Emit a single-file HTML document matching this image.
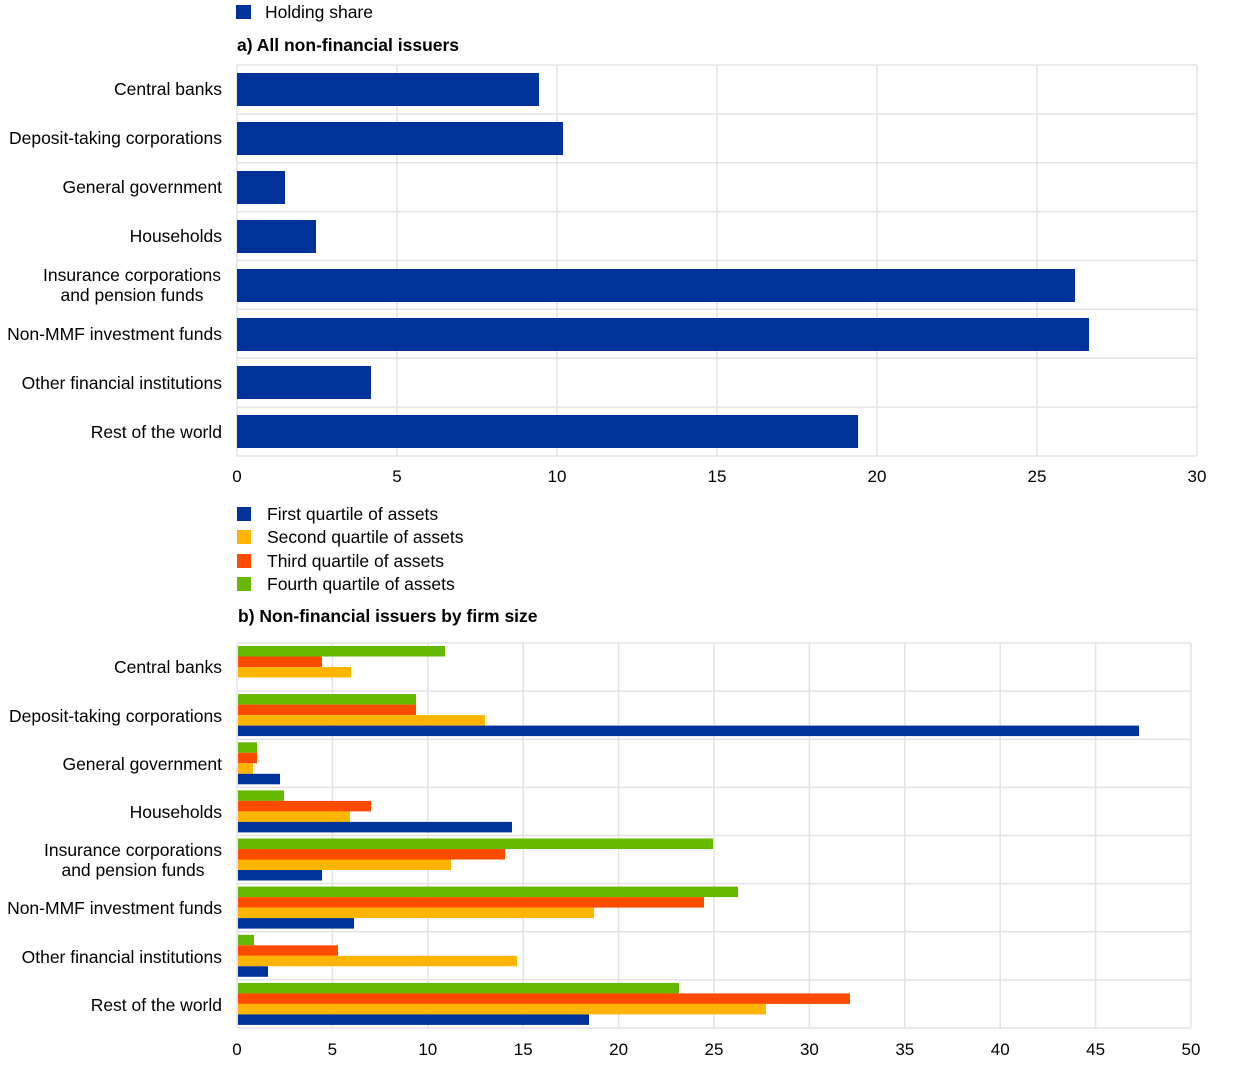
<!DOCTYPE html><html><head><meta charset="utf-8"><style>body{margin:0;background:#fff}svg{display:block;font-family:"Liberation Sans",Arial,sans-serif}</style></head><body>
<svg width="1240" height="1068" xmlns="http://www.w3.org/2000/svg">
<g font-size="17.5" fill="#000">
<rect x="236" y="5" width="15" height="14" fill="#003299"/>
<text x="265" y="18">Holding share</text>
<text x="237" y="51" font-weight="bold">a) All non-financial issuers</text>
</g>
<g stroke="#e3e3e3" stroke-width="1.5">
<line x1="237" y1="65" x2="1197" y2="65"/><line x1="237" y1="113.9" x2="1197" y2="113.9"/><line x1="237" y1="162.8" x2="1197" y2="162.8"/><line x1="237" y1="211.6" x2="1197" y2="211.6"/><line x1="237" y1="260.5" x2="1197" y2="260.5"/><line x1="237" y1="309.4" x2="1197" y2="309.4"/><line x1="237" y1="358.3" x2="1197" y2="358.3"/><line x1="237" y1="407.1" x2="1197" y2="407.1"/><line x1="237" y1="456" x2="1197" y2="456"/>
<line x1="237" y1="65" x2="237" y2="456"/><line x1="397" y1="65" x2="397" y2="456"/><line x1="557" y1="65" x2="557" y2="456"/><line x1="717" y1="65" x2="717" y2="456"/><line x1="877" y1="65" x2="877" y2="456"/><line x1="1037" y1="65" x2="1037" y2="456"/><line x1="1197" y1="65" x2="1197" y2="456"/>
</g>
<g fill="#003299">
<rect x="237" y="73" width="302" height="33"/>
<rect x="237" y="122" width="326" height="33"/>
<rect x="237" y="171" width="48" height="33"/>
<rect x="237" y="220" width="79" height="33"/>
<rect x="237" y="269" width="838" height="33"/>
<rect x="237" y="318" width="852" height="33"/>
<rect x="237" y="366" width="134" height="33"/>
<rect x="237" y="415" width="621" height="33"/>
</g>
<g font-size="17.5" text-anchor="end">
<text x="222" y="95">Central banks</text>
<text x="222" y="144">Deposit-taking corporations</text>
<text x="222" y="193">General government</text>
<text x="222" y="242">Households</text>
<text x="132" y="281" text-anchor="middle">Insurance corporations</text>
<text x="132" y="301" text-anchor="middle">and pension funds</text>
<text x="222" y="340">Non-MMF investment funds</text>
<text x="222" y="389">Other financial institutions</text>
<text x="222" y="438">Rest of the world</text>
</g>
<g font-size="17" text-anchor="middle">
<text x="237" y="482">0</text><text x="397" y="482">5</text><text x="557" y="482">10</text><text x="717" y="482">15</text><text x="877" y="482">20</text><text x="1037" y="482">25</text><text x="1197" y="482">30</text>
</g>
<g font-size="17.5">
<rect x="237" y="507" width="14" height="14" fill="#003299"/><text x="267" y="520">First quartile of assets</text>
<rect x="237" y="530" width="14" height="14" fill="#ffb400"/><text x="267" y="543">Second quartile of assets</text>
<rect x="237" y="554" width="14" height="14" fill="#ff4b00"/><text x="267" y="567">Third quartile of assets</text>
<rect x="237" y="577" width="14" height="14" fill="#65b800"/><text x="267" y="590">Fourth quartile of assets</text>
<text x="238" y="622" font-weight="bold">b) Non-financial issuers by firm size</text>
</g>
<g stroke="#e3e3e3" stroke-width="1.5">
<line x1="237" y1="643" x2="1191" y2="643"/><line x1="237" y1="691.1" x2="1191" y2="691.1"/><line x1="237" y1="739.3" x2="1191" y2="739.3"/><line x1="237" y1="787.4" x2="1191" y2="787.4"/><line x1="237" y1="835.5" x2="1191" y2="835.5"/><line x1="237" y1="883.6" x2="1191" y2="883.6"/><line x1="237" y1="931.8" x2="1191" y2="931.8"/><line x1="237" y1="979.9" x2="1191" y2="979.9"/><line x1="237" y1="1028" x2="1191" y2="1028"/>
<line x1="237" y1="643" x2="237" y2="1028"/><line x1="332.4" y1="643" x2="332.4" y2="1028"/><line x1="427.8" y1="643" x2="427.8" y2="1028"/><line x1="523.2" y1="643" x2="523.2" y2="1028"/><line x1="618.6" y1="643" x2="618.6" y2="1028"/><line x1="714" y1="643" x2="714" y2="1028"/><line x1="809.4" y1="643" x2="809.4" y2="1028"/><line x1="904.8" y1="643" x2="904.8" y2="1028"/><line x1="1000.2" y1="643" x2="1000.2" y2="1028"/><line x1="1095.6" y1="643" x2="1095.6" y2="1028"/><line x1="1191" y1="643" x2="1191" y2="1028"/>
</g>
<g>
<rect x="238" y="646" width="207" height="10.5" fill="#65b800"/><rect x="238" y="656.5" width="84" height="10.5" fill="#ff4b00"/><rect x="238" y="667" width="113" height="10.5" fill="#ffb400"/>
<rect x="238" y="694.1" width="178" height="10.5" fill="#65b800"/><rect x="238" y="704.6" width="178" height="10.5" fill="#ff4b00"/><rect x="238" y="715.1" width="247" height="10.5" fill="#ffb400"/><rect x="238" y="725.6" width="901" height="10.5" fill="#003299"/>
<rect x="238" y="742.3" width="19" height="10.5" fill="#65b800"/><rect x="238" y="752.8" width="19" height="10.5" fill="#ff4b00"/><rect x="238" y="763.3" width="15" height="10.5" fill="#ffb400"/><rect x="238" y="773.8" width="42" height="10.5" fill="#003299"/>
<rect x="238" y="790.4" width="46" height="10.5" fill="#65b800"/><rect x="238" y="800.9" width="133" height="10.5" fill="#ff4b00"/><rect x="238" y="811.4" width="112" height="10.5" fill="#ffb400"/><rect x="238" y="821.9" width="274" height="10.5" fill="#003299"/>
<rect x="238" y="838.5" width="475" height="10.5" fill="#65b800"/><rect x="238" y="849" width="267" height="10.5" fill="#ff4b00"/><rect x="238" y="859.5" width="213" height="10.5" fill="#ffb400"/><rect x="238" y="870" width="84" height="10.5" fill="#003299"/>
<rect x="238" y="886.6" width="500" height="10.5" fill="#65b800"/><rect x="238" y="897.1" width="466" height="10.5" fill="#ff4b00"/><rect x="238" y="907.6" width="356" height="10.5" fill="#ffb400"/><rect x="238" y="918.1" width="116" height="10.5" fill="#003299"/>
<rect x="238" y="934.8" width="16" height="10.5" fill="#65b800"/><rect x="238" y="945.3" width="100" height="10.5" fill="#ff4b00"/><rect x="238" y="955.8" width="279" height="10.5" fill="#ffb400"/><rect x="238" y="966.3" width="30" height="10.5" fill="#003299"/>
<rect x="238" y="982.9" width="441" height="10.5" fill="#65b800"/><rect x="238" y="993.4" width="612" height="10.5" fill="#ff4b00"/><rect x="238" y="1003.9" width="528" height="10.5" fill="#ffb400"/><rect x="238" y="1014.4" width="351" height="10.5" fill="#003299"/>
</g>
<g font-size="17.5" text-anchor="end">
<text x="222" y="673">Central banks</text>
<text x="222" y="722">Deposit-taking corporations</text>
<text x="222" y="770">General government</text>
<text x="222" y="818">Households</text>
<text x="133" y="856" text-anchor="middle">Insurance corporations</text>
<text x="133" y="876" text-anchor="middle">and pension funds</text>
<text x="222" y="914">Non-MMF investment funds</text>
<text x="222" y="963">Other financial institutions</text>
<text x="222" y="1011">Rest of the world</text>
</g>
<g font-size="17" text-anchor="middle">
<text x="237" y="1055">0</text><text x="332.4" y="1055">5</text><text x="427.8" y="1055">10</text><text x="523.2" y="1055">15</text><text x="618.6" y="1055">20</text><text x="714" y="1055">25</text><text x="809.4" y="1055">30</text><text x="904.8" y="1055">35</text><text x="1000.2" y="1055">40</text><text x="1095.6" y="1055">45</text><text x="1191" y="1055">50</text>
</g>
</svg>
</body></html>
